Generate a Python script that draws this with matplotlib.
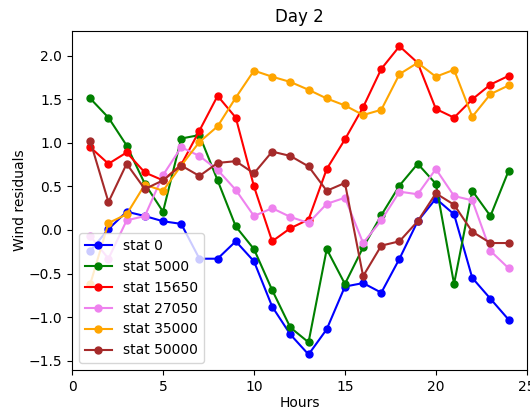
import matplotlib
matplotlib.use('Agg')
import matplotlib.pyplot as plt
import numpy as np

hours = np.arange(1, 25)

stat_0 = [-0.24, 0.01, 0.21, 0.16, 0.10, 0.07, -0.33, -0.33, -0.13, -0.36, -0.88, -1.20,
          -1.43, -1.14, -0.65, -0.61, -0.72, -0.33, 0.10, 0.36, 0.18, -0.55, -0.79, -1.03]
stat_5000 = [1.51, 1.29, 0.97, 0.53, 0.21, 1.05, 1.09, 0.57, 0.04, -0.22, -0.69, -1.12,
             -1.29, -0.22, -0.62, -0.20, 0.17, 0.51, 0.76, 0.53, -0.62, 0.45, 0.16, 0.68]
stat_15650 = [0.95, 0.76, 0.89, 0.66, 0.57, 0.75, 1.14, 1.54, 1.29, 0.50, -0.13, 0.02,
              0.12, 0.70, 1.04, 1.41, 1.85, 2.11, 1.92, 1.39, 1.29, 1.50, 1.67, 1.77]
stat_27050 = [-0.07, -0.33, 0.11, 0.16, 0.63, 0.95, 0.85, 0.69, 0.46, 0.16, 0.25, 0.15,
              0.08, 0.30, 0.37, -0.15, 0.11, 0.44, 0.41, 0.70, 0.39, 0.34, -0.24, -0.44]
stat_35000 = [-0.62, 0.08, 0.18, 0.52, 0.45, 0.74, 1.01, 1.19, 1.52, 1.83, 1.76, 1.70,
              1.61, 1.51, 1.43, 1.32, 1.38, 1.79, 1.92, 1.76, 1.84, 1.30, 1.56, 1.66]
stat_50000 = [1.02, 0.32, 0.76, 0.47, 0.57, 0.74, 0.62, 0.77, 0.79, 0.65, 0.90, 0.85,
              0.73, 0.45, 0.54, -0.53, -0.18, -0.13, 0.10, 0.42, 0.29, -0.02, -0.15, -0.15]

series = [stat_0, stat_5000, stat_15650, stat_27050, stat_35000, stat_50000]
labels = ['stat 0', 'stat 5000', 'stat 15650', 'stat 27050', 'stat 35000', 'stat 50000']
colours = ['blue', 'green', 'red', 'violet', 'orange', 'brown']

fig = plt.figure(figsize=(5.3, 4.11), dpi=100)
ax = fig.add_axes([0.136, 0.10, 0.858, 0.825])

for vals, lab, c in zip(series, labels, colours):
    ax.plot(hours, vals, marker='o', color=c, label=lab, markersize=5)

ax.set_xlim(0, 25)
ax.set_title('Day 2')
ax.set_xlabel('Hours', labelpad=2)
ax.set_ylabel('Wind residuals', labelpad=1)
ax.legend(loc='lower left')

plt.savefig('out.png', dpi=100)
